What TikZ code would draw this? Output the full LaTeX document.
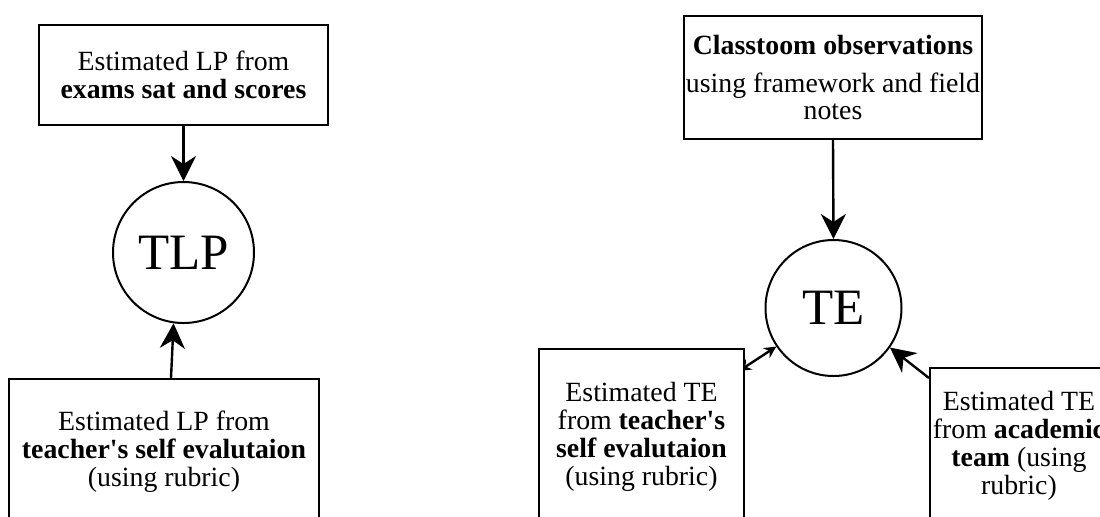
\documentclass[tikz,border=0pt]{standalone}
\usepackage{fontspec}
\setmainfont{Liberation Serif}
\usetikzlibrary{arrows.meta,calc,backgrounds}
\begin{document}
\begin{tikzpicture}[
        x=0.5pt, y=-0.5pt,
        src_box/.style={draw, line width=1pt, fill=white, inner sep=0pt, align=center, font=\fontsize{13.9}{13.9}\selectfont},
        var_circle/.style={draw, circle, line width=1pt, fill=white, inner sep=0pt, font=\fontsize{25.5}{25.5}\selectfont},
        feed/.style={line width=1.2pt, -{Stealth[length=12.5pt, width=12.5pt, inset=4pt]}},
        feed_both/.style={line width=1.2pt, {Stealth[length=6pt, width=6pt, inset=2pt]}-{Stealth[length=6pt, width=6pt, inset=2pt]}}
    ]
        \useasboundingbox (0,0) rectangle (1100,516);
        \clip (0,0) rectangle (1100,516);

        % Learning process side
        \node[src_box, minimum width=144.5pt, minimum height=50pt] (lpExam) at (183.5,75) {Estimated LP from\\\textbf{exams sat and scores}};
        \node[var_circle, minimum size=70.5pt] (tlp) at (183.5,252.5) {TLP};
        \node[src_box, minimum width=155pt, minimum height=73pt] (lpSelf) at (164,452) {Estimated LP from\\\textbf{teacher\textquotesingle s self evalutaion}\\(using rubric)};

        % Teaching effectiveness side
        \node[src_box, minimum width=149pt, minimum height=61.5pt] (obs) at (833,77.5) {\textbf{Classtoom observations}\\[5pt]using framework and field\\notes};
        \node[var_circle, minimum size=68pt] (te) at (833.5,308) {TE};
        \node[src_box, minimum width=102.5pt, minimum height=88pt] (teSelf) at (641.5,437) {Estimated TE\\from \textbf{teacher\textquotesingle s}\\\textbf{self evalutaion}\\(using rubric)};
        \node[src_box, minimum width=89pt, minimum height=78pt] (teAcad) at (1019,446) {Estimated TE\\from \textbf{academic}\\\textbf{team} (using\\rubric)};

        % Arrows (behind the boxes)
        \begin{scope}[on background layer]
            \draw[feed] (lpExam.south) -- (tlp.north);
            \draw[feed] ($(lpSelf.north)+(7,0)$) -- (tlp.262.7);
            \draw[feed] (obs.south) -- (te.north);
            \draw[feed_both] ($(teSelf.north east)+(-6,23)$) -- (te.214);
            \draw[feed] ($(teAcad.north west)+(0,11)$) -- (te.-35);
        \end{scope}
\end{tikzpicture}
\end{document}
